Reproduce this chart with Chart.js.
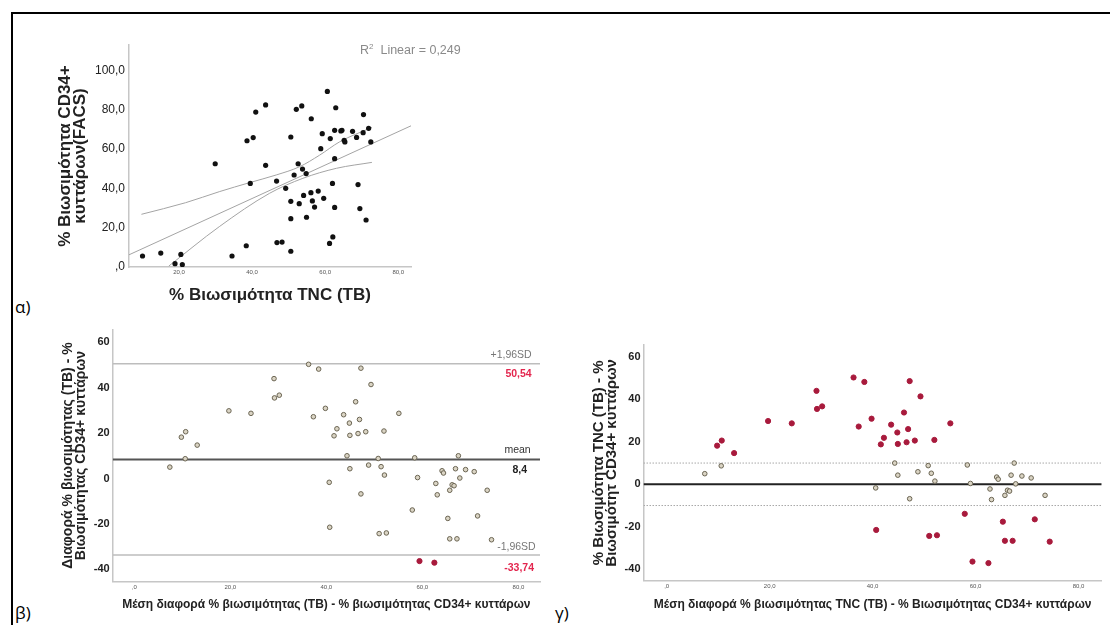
<!DOCTYPE html>
<html lang="el">
<head>
<meta charset="utf-8">
<title>Βιωσιμότητα TNC / CD34+</title>
<script src="https://cdn.jsdelivr.net/npm/chart.js@4.4.1/dist/chart.umd.min.js"></script>
<style>
  html, body { margin: 0; padding: 0; background: #fff; }
  body { width: 1110px; height: 625px; position: relative; overflow: hidden; font-family: "Liberation Sans", Arial, sans-serif; }
  .frame { position: absolute; left: 11px; top: 12px; width: 1110px; height: 640px; border-top: 2px solid #000; border-left: 2px solid #000; }
  .panel { position: absolute; }
  .tag { position: absolute; font-family: "Open Sans", sans-serif; font-size: 17px; line-height: 17px; color: #000; }
  .r2 { position: absolute; left: 360px; top: 39px; font-size: 12.5px; line-height: 15px; color: #8a8a8a; white-space: nowrap; }
  .r2 sup { font-size: 8px; }
</style>
</head>
<body>
<div class="frame"></div>

<div class="panel" style="left:40px;top:20px;width:430px;height:290px"><canvas id="chartA"></canvas></div>
<div class="r2">R<sup>2</sup>&nbsp; Linear = 0,249</div>
<div class="tag" style="left:15px;top:298px">α)</div>

<div class="panel" style="left:40px;top:320px;width:510px;height:305px"><canvas id="chartB"></canvas></div>
<div class="tag" style="left:15px;top:604px">β)</div>

<div class="panel" style="left:570px;top:330px;width:540px;height:295px"><canvas id="chartC"></canvas></div>
<div class="tag" style="left:555px;top:604px">γ)</div>

<script>
// α) % βιωσιμότητα TNC (x) vs CD34+ FACS (y)
const TNC_VIAB = [10, 15, 18.9, 20.5, 20.9, 29.9, 34.5, 38.4, 38.6, 40.3, 39.5, 41, 43.7, 43.7, 46.7, 46.8, 48.2, 49.2, 50.6, 50.6, 50.6, 50.6, 51.5, 52.1, 52.6, 52.9, 53.6, 53.8, 54.1, 54.8, 54.9, 56.2, 56.1, 56.5, 57.1, 58.1, 58.8, 59.2, 59.6, 60.6, 61.4, 61.2, 62, 62.1, 62.6, 62.6, 62.6, 62.9, 64.3, 64.6, 65.2, 65.4, 67.5, 68.6, 69, 69.5, 70.4, 70.5, 71.2, 71.9, 72.5];
const CD34_VIAB = [5.6, 7.1, 1.7, 6.4, 1.2, 52.5, 5.6, 10.8, 64.2, 65.8, 42.5, 78.8, 82.4, 51.7, 43.7, 12.4, 12.7, 40, 66.1, 33.4, 24.6, 8, 46.8, 80.2, 52.5, 32.2, 81.9, 49.8, 36.4, 47.5, 25.3, 75.4, 37.8, 33.6, 30.5, 38.6, 60.2, 67.8, 34.9, 89.3, 65.3, 12, 42.5, 15.3, 69.5, 55.1, 30.3, 81, 69.2, 69.5, 64.4, 63.6, 69, 65.9, 41.9, 29.7, 68.3, 77.5, 23.9, 70.5, 63.6];

// linear fit and its 95% band
const FIT_X = [6.3, 83.5];
const FIT_Y = [6.2, 71.8];
const CI_UP_X = [9.7, 21.8, 31, 39.3, 46.6, 53, 58.5, 64, 72.8];
const CI_UP_Y = [26.8, 32.7, 38.3, 42.9, 46.8, 51, 56.9, 63.7, 71];
const CI_LO_X = [17.2, 31, 44.8, 53.9, 63.1, 72.8];
const CI_LO_Y = [0.5, 20.5, 37.5, 45.1, 50.2, 53.2];

// β) / γ) Bland-Altman: mean (x) vs difference (y)
const MEAN_X = [7.4, 9.8, 10.7, 10.6, 13.1, 19.7, 24.3, 29.1, 29.2, 30.2, 36.3, 37.3, 38.4, 39.8, 40.6, 40.7, 41.6, 42.2, 43.6, 44.3, 44.8, 44.9, 44.9, 46.1, 46.6, 46.9, 47.2, 47.2, 48.2, 48.8, 49.3, 50.8, 51.0, 51.4, 52.0, 52.1, 52.5, 55.1, 57.9, 58.4, 59.0, 59.4, 62.5, 62.8, 63.1, 64.1, 64.4, 65.3, 65.7, 65.7, 66.2, 66.6, 66.9, 67.2, 67.5, 67.8, 69.0, 70.8, 71.5, 73.5, 74.4];
const DIFF = [5.0, 18.2, 20.6, 8.7, 14.7, 29.8, 28.7, 44.0, 35.5, 36.7, 50.3, 27.2, 48.2, 30.9, -1.7, -21.5, 18.8, 21.9, 28.1, 10.0, 24.4, 4.3, 19.0, 33.8, 19.8, 26.0, 48.6, -6.8, 20.6, 5.9, 41.4, 8.8, -24.3, 5.2, 20.9, 1.5, -24.0, 28.7, -13.9, 9.1, 0.4, -36.4, -37.1, -2.2, -7.2, 3.4, 2.4, -17.6, -5.2, -26.6, -2.8, -3.2, 4.3, -26.6, 10.0, 0.2, 3.9, 3.0, -16.5, -5.2, -27.0];

const LIMIT_NAMES = ['+1,96SD', 'mean', '-1,96SD'];
const LIMIT_VALUES = [50.54, 8.4, -33.74];
const AGREE_LINES = [10, 0, -10];

const BA_X_RANGE = [-4.5, 84.5];
const BA_Y_RANGE = [-45.4, 65.6];

const RED = '#a81a3c';
const GREY_FILL = '#dad4c4';
const GREY_EDGE = '#6a6452';
const AXIS = '#c6c6c6';
const FONT = '"Liberation Sans", Arial, sans-serif';

Chart.defaults.font.family = FONT;
Chart.defaults.color = '#222';

const toPoints = (xs, ys) => xs.map((x, i) => ({ x, y: ys[i] }));
const commaOne = v => v === 0 ? ',0' : v.toFixed(1).replace('.', ',');
const comma = v => String(v).replace('.', ',');

function baseOptions(pad, yWidth, xHeight) {
  return {
    responsive: true,
    maintainAspectRatio: false,
    animation: false,
    events: [],
    layout: { padding: pad },
    plugins: { legend: { display: false }, tooltip: { enabled: false } },
    scales: {
      x: {
        type: 'linear',
        afterFit: s => { s.height = xHeight; },
        grid: { display: false, drawTicks: false },
        border: { color: AXIS, width: 1.5 },
        ticks: { stepSize: 20, includeBounds: false, maxRotation: 0, font: { size: 6 }, color: '#555', callback: commaOne }
      },
      y: {
        type: 'linear',
        afterFit: s => { s.width = yWidth; },
        grid: { display: false, drawTicks: false },
        border: { color: AXIS, width: 1.5 },
        ticks: { stepSize: 20, includeBounds: false }
      }
    }
  };
}

function lineSet(data, color, width, extra) {
  return Object.assign({ data, showLine: true, borderColor: color, borderWidth: width, pointRadius: 0, order: 2 }, extra || {});
}

// ---- α)
const optA = baseOptions({ top: 25, right: 59, left: 0, bottom: 0 }, 89, 43);
Object.assign(optA.scales.x, { min: 6.3, max: 83.5 });
optA.scales.x.ticks.padding = 1.5;
optA.scales.x.title = { display: true, text: '% Βιωσιμότητα TNC (TB)', color: '#222', font: { size: 17, weight: 'bold', lineHeight: 1 }, padding: { top: 0, bottom: 5.8 } };
Object.assign(optA.scales.y, { min: 0, max: 112.9 });
Object.assign(optA.scales.y.ticks, { padding: 4, font: { size: 12 }, color: '#222', callback: commaOne });
optA.scales.y.title = { display: true, text: ['% Βιωσιμότητα CD34+', 'κυττάρων(FACS)'], color: '#222', font: { size: 17, weight: 'bold', lineHeight: '15.4px' }, padding: { top: 17.6, bottom: 0 } };

new Chart(document.getElementById('chartA'), {
  type: 'scatter',
  data: {
    datasets: [
      { data: toPoints(TNC_VIAB, CD34_VIAB), pointRadius: 2.6, pointBorderWidth: 0, pointBackgroundColor: '#111', order: 0 },
      lineSet(toPoints(FIT_X, FIT_Y), '#a4a4a4', 1),
      lineSet(toPoints(CI_UP_X, CI_UP_Y), '#a4a4a4', 1, { cubicInterpolationMode: 'monotone' }),
      lineSet(toPoints(CI_LO_X, CI_LO_Y), '#a4a4a4', 1, { cubicInterpolationMode: 'monotone' })
    ]
  },
  options: optA
});

// ---- β) and γ) share the same points
function baPoints(isOut) {
  return {
    data: toPoints(MEAN_X, DIFF),
    order: 0,
    pointRadius: ctx => (ctx.raw && isOut(ctx.raw.y)) ? 2.6 : 2.3,
    pointBorderWidth: 1,
    pointBackgroundColor: ctx => (ctx.raw && isOut(ctx.raw.y)) ? RED : GREY_FILL,
    pointBorderColor: ctx => (ctx.raw && isOut(ctx.raw.y)) ? RED : GREY_EDGE
  };
}

function hLine(v) {
  return [{ x: BA_X_RANGE[0], y: v }, { x: BA_X_RANGE[1], y: v }];
}

function baOptions(pad, yWidth, xHeight, yTitle, xTitle, yFont, yLine, yPad) {
  const o = baseOptions(pad, yWidth, xHeight);
  Object.assign(o.scales.x, { min: BA_X_RANGE[0], max: BA_X_RANGE[1] });
  o.scales.x.ticks.padding = 2.5;
  o.scales.x.title = { display: true, text: xTitle, color: '#222', font: { size: 12, weight: 'bold', lineHeight: 1 }, padding: { top: 0, bottom: 14 } };
  Object.assign(o.scales.y, { min: BA_Y_RANGE[0], max: BA_Y_RANGE[1] });
  Object.assign(o.scales.y.ticks, { padding: 3, font: { size: 11, weight: 'bold' }, color: '#222' });
  o.scales.y.title = { display: true, text: yTitle, color: '#222', font: { size: yFont, weight: 'bold', lineHeight: yLine }, padding: { top: yPad, bottom: 0 } };
  return o;
}

// labels next to the limit lines of β)
const limitLabels = {
  id: 'limitLabels',
  afterDatasetsDraw(chart) {
    const { ctx, chartArea, scales: { y } } = chart;
    const nameDx = [8.3, 9.3, 4.3];
    const valueDx = [8.3, 13, 6];
    const nameDy = [-9, -9, -7.6];
    const valueDy = [10.6, 10.7, 12.7];
    ctx.save();
    ctx.textAlign = 'right';
    ctx.textBaseline = 'middle';
    LIMIT_VALUES.forEach((v, i) => {
      const py = y.getPixelForValue(v);
      ctx.font = '10.5px ' + FONT;
      ctx.fillStyle = i === 1 ? '#333' : '#777';
      ctx.fillText(LIMIT_NAMES[i], chartArea.right - nameDx[i], py + nameDy[i]);
      ctx.font = 'bold 10.5px ' + FONT;
      ctx.fillStyle = i === 1 ? '#222' : '#e3264e';
      ctx.fillText(comma(v), chartArea.right - valueDx[i], py + valueDy[i]);
    });
    ctx.restore();
  }
};

new Chart(document.getElementById('chartB'), {
  type: 'scatter',
  data: {
    datasets: [
      baPoints(d => d < LIMIT_VALUES[2] || d > LIMIT_VALUES[0]),
      lineSet(hLine(LIMIT_VALUES[0]), '#bdbdbd', 1.5),
      lineSet(hLine(LIMIT_VALUES[1]), '#555', 2),
      lineSet(hLine(LIMIT_VALUES[2]), '#bdbdbd', 1.5)
    ]
  },
  options: baOptions({ top: 7, right: 10, left: 0, bottom: 0 }, 72.7, 43.5,
    ['Διαφορά % βιωσιμότητας (TB) - %', 'Βιωσιμότητας CD34+ κυττάρων'],
    'Μέση διαφορά % βιωσιμότητας (TB) - % βιωσιμότητας CD34+ κυττάρων',
    14, '13.7px', 20.8),
  plugins: [limitLabels]
});

new Chart(document.getElementById('chartC'), {
  type: 'scatter',
  data: {
    datasets: [
      baPoints(d => Math.abs(d) > AGREE_LINES[0]),
      lineSet(hLine(AGREE_LINES[0]), '#a8a8a8', 1, { borderDash: [1.5, 1.5] }),
      lineSet(hLine(AGREE_LINES[1]), '#222', 2),
      lineSet(hLine(AGREE_LINES[2]), '#a8a8a8', 1, { borderDash: [1.5, 1.5] })
    ]
  },
  options: baOptions({ top: 15, right: 8.3, left: 0, bottom: 0 }, 73.5, 44.3,
    ['% Βιωσιμότητα TNC (TB) - %', 'Βιωσιμότητ CD34+ κυττάρων'],
    'Μέση διαφορά % βιωσιμότητας TNC (TB) - % Βιωσιμότητας CD34+ κυττάρων',
    15, '13px', 22)
});
</script>
</body>
</html>
